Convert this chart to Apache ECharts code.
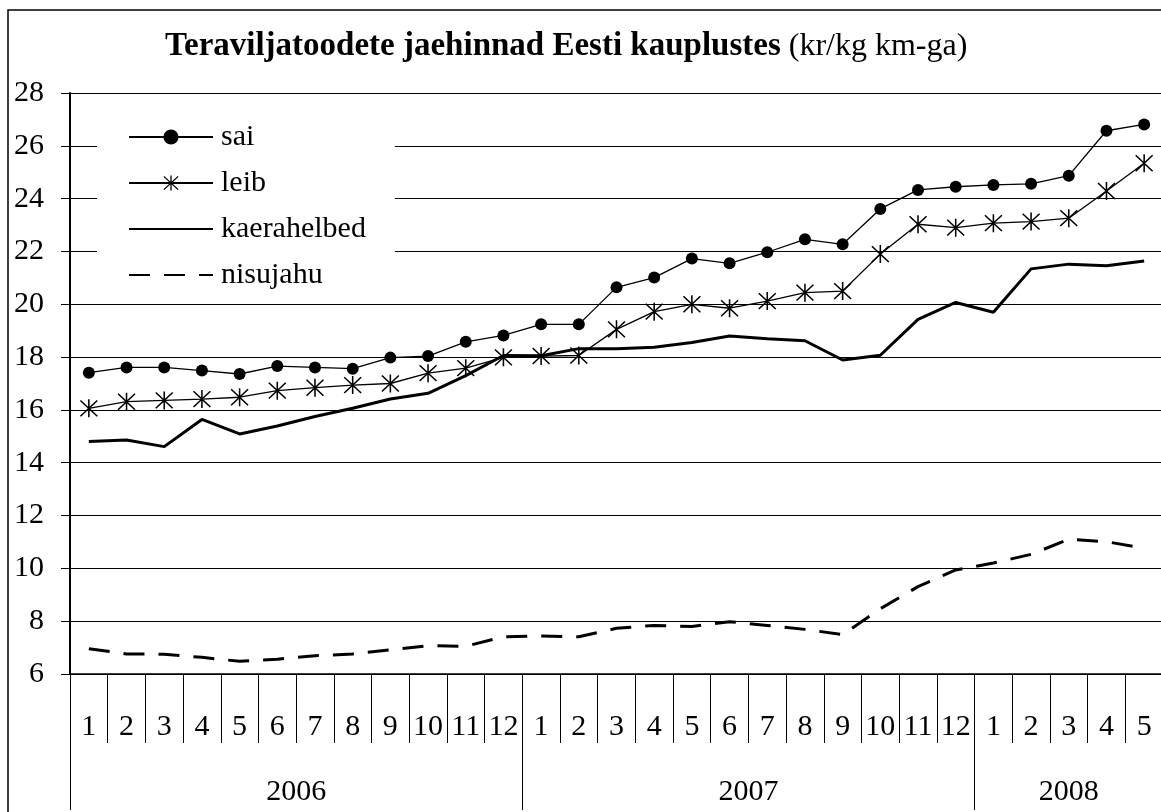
<!DOCTYPE html>
<html>
<head>
<meta charset="utf-8">
<script src="https://cdn.jsdelivr.net/npm/echarts@6/dist/echarts.min.js"></script>
<style>
  html, body { margin: 0; padding: 0; background: #fff; }
  #main { width: 1161px; height: 812px; }
</style>
</head>
<body>
<div id="main"></div>
<script>
// aastad ja kuude arv igas aastas
const years = ['2006', '2007', '2008'];
const monthsInYear = [12, 12, 5];
const monthLabels = [
  '1','2','3','4','5','6','7','8','9','10','11','12',
  '1','2','3','4','5','6','7','8','9','10','11','12',
  '1','2','3','4','5'
];
const yTicks = [6, 28, 2]; // min, max, samm

// hinnad kr/kg
const sai = [17.41, 17.61, 17.61, 17.49, 17.36, 17.66, 17.61, 17.56, 17.98, 18.04, 18.58, 18.82,
  19.24, 19.24, 20.64, 21.01, 21.73, 21.55, 21.97, 22.46, 22.27, 23.61, 24.33, 24.45,
  24.52, 24.56, 24.87, 26.57, 26.81];
const leib = [16.06, 16.31, 16.36, 16.41, 16.48, 16.73, 16.84, 16.94, 17.0, 17.39, 17.58, 17.99,
  18.04, 18.06, 19.05, 19.72, 20.0, 19.85, 20.12, 20.44, 20.5, 21.9, 23.03, 22.9,
  23.07, 23.13, 23.26, 24.29, 25.34];
const kaerahelbed = [14.80, 14.86, 14.61, 15.64, 15.09, 15.39, 15.75, 16.06, 16.41, 16.63, 17.3, 18.06,
  18.05, 18.32, 18.32, 18.37, 18.55, 18.8, 18.69, 18.62, 17.89, 18.07, 19.43, 20.07,
  19.70, 21.34, 21.52, 21.46, 21.64];
const nisujahu = [6.96, 6.76, 6.75, 6.63, 6.48, 6.56, 6.69, 6.76, 6.92, 7.07, 7.05, 7.41,
  7.44, 7.41, 7.73, 7.84, 7.8, 7.98, 7.84, 7.69, 7.49, 8.47, 9.31, 9.94,
  10.2, 10.53, 11.1, 11.01, 10.76];

const FONT = 'Liberation Serif';

// aastate telg: poolkuu sammuga punktid, et aasta nimi jääks oma lõigu keskele
const yearAxisData = [];
const yearTickIdx = {};
let total = monthsInYear.reduce((a, b) => a + b, 0);
for (let k = 0; k <= total * 2; k++) yearAxisData.push('');
let start = 0;
years.forEach((y, i) => {
  yearTickIdx[start * 2] = true;
  yearAxisData[start * 2 + monthsInYear[i]] = y;
  start += monthsInYear[i];
});
yearTickIdx[total * 2] = true;

// tärn (Exceli "star" marker)
const starPath = 'path://M46 0L54 0L54 100L46 100Z' +
  'M8.8 3.2L96.8 91.2L91.2 96.8L3.2 8.8Z' +
  'M96.8 8.8L8.8 96.8L3.2 91.2L91.2 3.2Z';

var myChart = echarts.init(document.getElementById('main'));
var option = {
  animation: false,
  backgroundColor: '#fff',
  title: {
    left: 160,
    top: 25,
    text: '{b|Teraviljatoodete jaehinnad Eesti kauplustes}{n| (kr/kg km-ga)}',
    textStyle: {
      rich: {
        b: { fontFamily: FONT, fontWeight: 'bold', fontSize: 33, color: '#000' },
        n: { fontFamily: FONT, fontWeight: 'normal', fontSize: 32, color: '#000' }
      }
    }
  },
  graphic: [{
    type: 'rect',
    z: 100,
    shape: { x: 8, y: 10, width: 1300, height: 1000 },
    style: { fill: 'none', stroke: '#000', lineWidth: 1.5 }
  }],
  legend: {
    orient: 'vertical',
    left: 97,
    top: 112,
    padding: [10, 29, 10, 31],
    backgroundColor: '#fff',
    itemWidth: 84,
    itemHeight: 19,
    itemGap: 16,
    textStyle: { fontFamily: FONT, fontSize: 30, color: '#000', padding: [0, 0, 0, 3] },
    data: ['sai', 'leib', 'kaerahelbed', 'nisujahu']
  },
  grid: {
    left: 70,
    top: 93,
    right: -2,
    bottom: 138,
    containLabel: false,
    outerBoundsMode: 'none'
  },
  xAxis: [{
    type: 'category',
    data: monthLabels,
    position: 'bottom',
    boundaryGap: true,
    axisLine: { show: true, lineStyle: { color: '#000', width: 1.5 } },
    axisTick: { show: true, interval: 0, length: 69, lineStyle: { color: '#000', width: 1 } },
    axisLabel: { interval: 0, margin: 38, fontFamily: FONT, fontSize: 30, color: '#000' },
    splitLine: { show: false }
  }, {
    type: 'category',
    data: yearAxisData,
    position: 'bottom',
    boundaryGap: false,
    axisLine: { show: false },
    axisTick: {
      show: true,
      length: 136,
      interval: (idx) => !!yearTickIdx[idx],
      lineStyle: { color: '#000', width: 1 }
    },
    axisLabel: { interval: 0, margin: 103, fontFamily: FONT, fontSize: 30, color: '#000' },
    splitLine: { show: false }
  }],
  yAxis: {
    type: 'value',
    min: yTicks[0],
    max: yTicks[1],
    interval: yTicks[2],
    axisLine: { show: true, lineStyle: { color: '#000', width: 2 } },
    axisTick: { show: true, length: 9, lineStyle: { color: '#000', width: 1 } },
    axisLabel: { margin: 26, fontFamily: FONT, fontSize: 30, color: '#000' },
    splitLine: { show: true, lineStyle: { color: '#000', width: 1 } }
  },
  series: [{
    name: 'sai',
    type: 'line',
    data: sai,
    symbol: 'circle',
    symbolSize: 12,
    itemStyle: { color: '#000' },
    lineStyle: { color: '#000', width: 1.3 }
  }, {
    name: 'leib',
    type: 'line',
    data: leib,
    symbol: starPath,
    symbolSize: 18,
    itemStyle: { color: '#000' },
    lineStyle: { color: '#000', width: 1.3 }
  }, {
    name: 'kaerahelbed',
    type: 'line',
    data: kaerahelbed,
    symbol: 'none',
    itemStyle: { color: 'rgba(0,0,0,0)' },
    lineStyle: { color: '#000', width: 3 }
  }, {
    name: 'nisujahu',
    type: 'line',
    data: nisujahu,
    symbol: 'none',
    itemStyle: { color: 'rgba(0,0,0,0)' },
    lineStyle: { color: '#000', width: 3, type: [21, 14] }
  }]
};
myChart.setOption(option);
window.onresize = () => {
  myChart.resize()
}
</script>
</body>
</html>
